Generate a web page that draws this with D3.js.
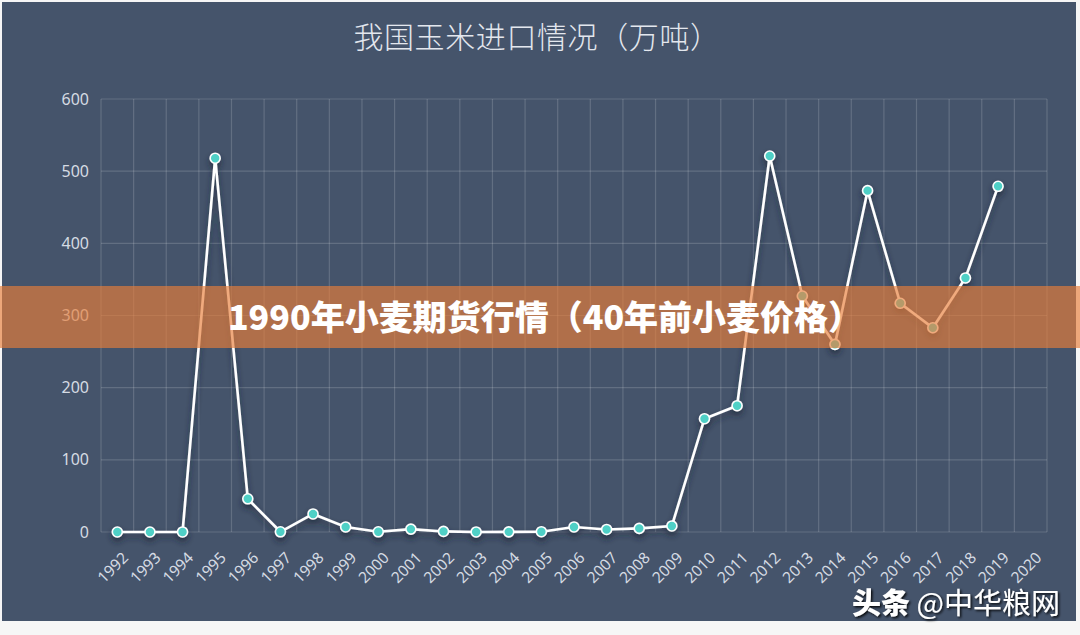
<!DOCTYPE html>
<html>
<head>
<meta charset="utf-8">
<script src="https://cdn.jsdelivr.net/npm/d3@7"></script>
<style>
  html, body { margin: 0; padding: 0; background: #f6f6f6; }
  svg { display: block; }
</style>
</head>
<body>
<svg id="chart" width="1080" height="635"></svg>
<script>
// 我国玉米进口量（万吨）
const years = ["1992","1993","1994","1995","1996","1997","1998","1999","2000","2001",
  "2002","2003","2004","2005","2006","2007","2008","2009","2010","2011",
  "2012","2013","2014","2015","2016","2017","2018","2019","2020"];
const imports = [0, 0, 0.1, 518, 46, 0.3, 25, 7, 0.3, 4,
  0.8, 0.1, 0.2, 0.4, 7, 3.5, 5, 8.4, 157, 175,
  521, 327, 260, 473, 317, 283, 352, 479, null];
const yTicks = [0, 100, 200, 300, 400, 500, 600];

const title = "我国玉米进口情况（万吨）";
const banner = "1990年小麦期货行情（40年前小麦价格）";
const mark1 = "头条", mark2 = " @中华粮网";

const svg = d3.select("#chart");
const W = 1080, H = 635;
const margin = {left: 101, right: 33, top: 99, bottom: 103};

const defs = svg.append("defs");
const f = defs.append("filter").attr("id", "shadow")
  .attr("x", "-20%").attr("y", "-20%").attr("width", "140%").attr("height", "140%");
f.append("feDropShadow").attr("dx", 0).attr("dy", 4).attr("stdDeviation", 3)
  .attr("flood-color", "#1a2230").attr("flood-opacity", 0.7);
const f2 = defs.append("filter").attr("id", "tshadow");
f2.append("feDropShadow").attr("dx", 1.5).attr("dy", 1.5).attr("stdDeviation", 0.8)
  .attr("flood-color", "#000").attr("flood-opacity", 0.9);

// panel
svg.append("rect").attr("x", 2).attr("y", 2).attr("width", 1074).attr("height", 619)
  .attr("fill", "#45546b");

svg.append("text").attr("x", 537).attr("y", 48)
  .attr("text-anchor", "middle")
  .attr("font-family", "'Noto Sans CJK SC', sans-serif")
  .attr("font-weight", 300)
  .attr("font-size", 30)
  .attr("letter-spacing", 0.6)
  .attr("fill", "#e3e7ee")
  .text(title);

const x = d3.scaleBand().domain(years).range([margin.left, W - margin.right]);
const y = d3.scaleLinear().domain([0, 600]).range([H - margin.bottom, margin.top]);

// grid
const grid = svg.append("g").attr("stroke", "#ffffff").attr("stroke-opacity", 0.16).attr("stroke-width", 1.2);
grid.selectAll("line.h").data(yTicks).join("line")
  .attr("x1", margin.left).attr("x2", W - margin.right)
  .attr("y1", d => y(d)).attr("y2", d => y(d));
grid.selectAll("line.v").data(years.concat(["end"])).join("line")
  .attr("x1", d => d === "end" ? x.range()[1] : x(d))
  .attr("x2", d => d === "end" ? x.range()[1] : x(d))
  .attr("y1", y(0)).attr("y2", y(600));

// y axis
const yAxis = svg.append("g")
  .attr("transform", `translate(${margin.left - 12},0)`)
  .call(d3.axisLeft(y).tickValues(yTicks).tickSize(0).tickPadding(0));
yAxis.select(".domain").remove();
yAxis.selectAll("text")
  .attr("font-family", "'Noto Sans', sans-serif").attr("font-size", 16)
  .attr("fill", "#d5dbe3");

// x axis
const xAxis = svg.append("g")
  .attr("transform", `translate(0,${y(0) + 23})`)
  .call(d3.axisBottom(x).tickSize(0).tickPadding(0));
xAxis.select(".domain").remove();
xAxis.selectAll("text")
  .attr("font-family", "'Noto Sans', sans-serif").attr("font-size", 15.5)
  .attr("fill", "#d5dbe3")
  .attr("text-anchor", "end")
  .attr("dy", "0.35em")
  .attr("transform", "translate(8,0) rotate(-45)");

// line
const pts = years.map((yr, i) => ({yr, v: imports[i]})).filter(d => d.v != null);
const line = d3.line().x(d => x(d.yr) + x.bandwidth() / 2).y(d => y(d.v));
const series = svg.append("g").attr("filter", "url(#shadow)");
series.append("path").datum(pts)
  .attr("d", line).attr("fill", "none")
  .attr("stroke", "#ffffff").attr("stroke-width", 2.6);
series.selectAll("circle").data(pts).join("circle")
  .attr("cx", d => x(d.yr) + x.bandwidth() / 2)
  .attr("cy", d => y(d.v))
  .attr("r", 5)
  .attr("fill", "#4fd0c6")
  .attr("stroke", "#ffffff").attr("stroke-width", 1.6);

// overlay banner
svg.append("rect").attr("x", 0).attr("y", 286).attr("width", W).attr("height", 62)
  .attr("fill", "rgb(232,126,58)").attr("fill-opacity", 0.66);
svg.append("text").attr("x", 545).attr("y", 330)
  .attr("text-anchor", "middle")
  .attr("font-family", "'Noto Sans CJK SC', sans-serif")
  .attr("font-weight", 900)
  .attr("font-size", 34)
  .attr("fill", "#ffffff")
  .text(banner);

// watermark
const wm = svg.append("text").attr("x", 1060).attr("y", 614)
  .attr("text-anchor", "end")
  .attr("font-family", "'Noto Sans CJK SC', sans-serif")
  .attr("font-size", 29)
  .attr("fill", "#ffffff")
  .attr("filter", "url(#tshadow)");
wm.append("tspan").attr("font-weight", 900).text(mark1);
wm.append("tspan").attr("font-weight", 400).text(mark2);
</script>
</body>
</html>
